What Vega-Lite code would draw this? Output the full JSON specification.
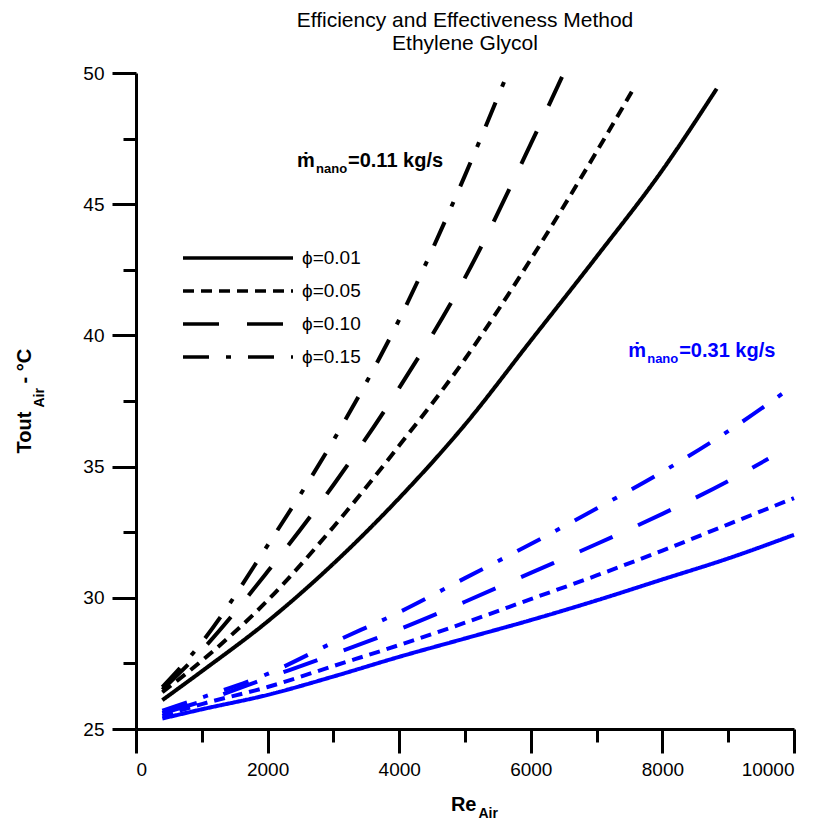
{
  "$schema": "https://vega.github.io/schema/vega-lite/v6.json",
  "width": 658,
  "height": 656,
  "autosize": "none",
  "padding": {"left": 136, "top": 73, "right": 26, "bottom": 100},
  "background": "white",
  "title": {
    "text": ["Efficiency and Effectiveness Method", "Ethylene Glycol"],
    "font": "Liberation Sans",
    "fontSize": 21,
    "fontWeight": "normal",
    "lineHeight": 23,
    "color": "black",
    "anchor": "middle",
    "frame": "group",
    "offset": 10
  },
  "datasets": {
    "curves": [
      {"Re": 400, "T": 26.1, "mdot": "0.11", "phi": "0.01"},
      {"Re": 1000, "T": 27.2, "mdot": "0.11", "phi": "0.01"},
      {"Re": 2000, "T": 29.1, "mdot": "0.11", "phi": "0.01"},
      {"Re": 3000, "T": 31.3, "mdot": "0.11", "phi": "0.01"},
      {"Re": 4000, "T": 33.8, "mdot": "0.11", "phi": "0.01"},
      {"Re": 5000, "T": 36.6, "mdot": "0.11", "phi": "0.01"},
      {"Re": 6000, "T": 39.8, "mdot": "0.11", "phi": "0.01"},
      {"Re": 7000, "T": 43.0, "mdot": "0.11", "phi": "0.01"},
      {"Re": 8000, "T": 46.3, "mdot": "0.11", "phi": "0.01"},
      {"Re": 8825, "T": 49.4, "mdot": "0.11", "phi": "0.01"},
      {"Re": 400, "T": 26.4, "mdot": "0.11", "phi": "0.05"},
      {"Re": 1000, "T": 27.6, "mdot": "0.11", "phi": "0.05"},
      {"Re": 2000, "T": 29.9, "mdot": "0.11", "phi": "0.05"},
      {"Re": 3000, "T": 32.7, "mdot": "0.11", "phi": "0.05"},
      {"Re": 4000, "T": 35.8, "mdot": "0.11", "phi": "0.05"},
      {"Re": 5000, "T": 39.1, "mdot": "0.11", "phi": "0.05"},
      {"Re": 6000, "T": 42.9, "mdot": "0.11", "phi": "0.05"},
      {"Re": 7000, "T": 47.0, "mdot": "0.11", "phi": "0.05"},
      {"Re": 7584, "T": 49.5, "mdot": "0.11", "phi": "0.05"},
      {"Re": 400, "T": 26.5, "mdot": "0.11", "phi": "0.10"},
      {"Re": 1000, "T": 28.0, "mdot": "0.11", "phi": "0.10"},
      {"Re": 2000, "T": 31.0, "mdot": "0.11", "phi": "0.10"},
      {"Re": 3000, "T": 34.3, "mdot": "0.11", "phi": "0.10"},
      {"Re": 4000, "T": 38.0, "mdot": "0.11", "phi": "0.10"},
      {"Re": 5000, "T": 42.2, "mdot": "0.11", "phi": "0.10"},
      {"Re": 6000, "T": 47.3, "mdot": "0.11", "phi": "0.10"},
      {"Re": 6474, "T": 49.85, "mdot": "0.11", "phi": "0.10"},
      {"Re": 400, "T": 26.6, "mdot": "0.11", "phi": "0.15"},
      {"Re": 1000, "T": 28.3, "mdot": "0.11", "phi": "0.15"},
      {"Re": 2000, "T": 32.0, "mdot": "0.11", "phi": "0.15"},
      {"Re": 3000, "T": 36.0, "mdot": "0.11", "phi": "0.15"},
      {"Re": 4000, "T": 40.6, "mdot": "0.11", "phi": "0.15"},
      {"Re": 5000, "T": 46.1, "mdot": "0.11", "phi": "0.15"},
      {"Re": 5593, "T": 49.66, "mdot": "0.11", "phi": "0.15"},
      {"Re": 400, "T": 25.4, "mdot": "0.31", "phi": "0.01"},
      {"Re": 1000, "T": 25.75, "mdot": "0.31", "phi": "0.01"},
      {"Re": 2000, "T": 26.3, "mdot": "0.31", "phi": "0.01"},
      {"Re": 3000, "T": 27.0, "mdot": "0.31", "phi": "0.01"},
      {"Re": 4000, "T": 27.75, "mdot": "0.31", "phi": "0.01"},
      {"Re": 5000, "T": 28.45, "mdot": "0.31", "phi": "0.01"},
      {"Re": 6000, "T": 29.15, "mdot": "0.31", "phi": "0.01"},
      {"Re": 7000, "T": 29.9, "mdot": "0.31", "phi": "0.01"},
      {"Re": 8000, "T": 30.7, "mdot": "0.31", "phi": "0.01"},
      {"Re": 9000, "T": 31.5, "mdot": "0.31", "phi": "0.01"},
      {"Re": 10000, "T": 32.4, "mdot": "0.31", "phi": "0.01"},
      {"Re": 400, "T": 25.5, "mdot": "0.31", "phi": "0.05"},
      {"Re": 1000, "T": 25.95, "mdot": "0.31", "phi": "0.05"},
      {"Re": 2000, "T": 26.6, "mdot": "0.31", "phi": "0.05"},
      {"Re": 3000, "T": 27.4, "mdot": "0.31", "phi": "0.05"},
      {"Re": 4000, "T": 28.2, "mdot": "0.31", "phi": "0.05"},
      {"Re": 5000, "T": 29.05, "mdot": "0.31", "phi": "0.05"},
      {"Re": 6000, "T": 29.95, "mdot": "0.31", "phi": "0.05"},
      {"Re": 7000, "T": 30.85, "mdot": "0.31", "phi": "0.05"},
      {"Re": 8000, "T": 31.8, "mdot": "0.31", "phi": "0.05"},
      {"Re": 9000, "T": 32.8, "mdot": "0.31", "phi": "0.05"},
      {"Re": 10000, "T": 33.8, "mdot": "0.31", "phi": "0.05"},
      {"Re": 400, "T": 25.6, "mdot": "0.31", "phi": "0.10"},
      {"Re": 1000, "T": 26.05, "mdot": "0.31", "phi": "0.10"},
      {"Re": 2000, "T": 26.95, "mdot": "0.31", "phi": "0.10"},
      {"Re": 3000, "T": 27.85, "mdot": "0.31", "phi": "0.10"},
      {"Re": 4000, "T": 28.8, "mdot": "0.31", "phi": "0.10"},
      {"Re": 5000, "T": 29.85, "mdot": "0.31", "phi": "0.10"},
      {"Re": 6000, "T": 30.95, "mdot": "0.31", "phi": "0.10"},
      {"Re": 7000, "T": 32.05, "mdot": "0.31", "phi": "0.10"},
      {"Re": 8000, "T": 33.2, "mdot": "0.31", "phi": "0.10"},
      {"Re": 9000, "T": 34.45, "mdot": "0.31", "phi": "0.10"},
      {"Re": 9610, "T": 35.3, "mdot": "0.31", "phi": "0.10"},
      {"Re": 400, "T": 25.7, "mdot": "0.31", "phi": "0.15"},
      {"Re": 1000, "T": 26.2, "mdot": "0.31", "phi": "0.15"},
      {"Re": 2000, "T": 27.1, "mdot": "0.31", "phi": "0.15"},
      {"Re": 3000, "T": 28.3, "mdot": "0.31", "phi": "0.15"},
      {"Re": 4000, "T": 29.45, "mdot": "0.31", "phi": "0.15"},
      {"Re": 5000, "T": 30.75, "mdot": "0.31", "phi": "0.15"},
      {"Re": 6000, "T": 32.05, "mdot": "0.31", "phi": "0.15"},
      {"Re": 7000, "T": 33.4, "mdot": "0.31", "phi": "0.15"},
      {"Re": 8000, "T": 34.8, "mdot": "0.31", "phi": "0.15"},
      {"Re": 9000, "T": 36.35, "mdot": "0.31", "phi": "0.15"},
      {"Re": 10000, "T": 38.1, "mdot": "0.31", "phi": "0.15"}
    ],
    "notes": [
      {"label": "ṁ", "Re": 2447, "T": 46.42, "grp": "0.11", "kind": "main"},
      {"label": "nano", "Re": 2736, "T": 46.19, "grp": "0.11", "kind": "sub"},
      {"label": "=0.11 kg/s", "Re": 3222, "T": 46.42, "grp": "0.11", "kind": "main"},
      {"label": "ṁ", "Re": 7480, "T": 39.18, "grp": "0.31", "kind": "main"},
      {"label": "nano", "Re": 7769, "T": 38.95, "grp": "0.31", "kind": "sub"},
      {"label": "=0.31 kg/s", "Re": 8255, "T": 39.18, "grp": "0.31", "kind": "main"}
    ]
  },
  "resolve": {"axis": {"x": "independent", "y": "independent"}},
  "layer": [
    {
      "data": {"name": "curves"},
      "transform": [{"filter": "datum.mdot === '0.11'"}],
      "mark": {"type": "line", "color": "black", "strokeWidth": 4, "interpolate": "monotone"},
      "encoding": {
        "x": {
          "field": "Re", "type": "quantitative",
          "scale": {"domain": [0, 10000], "nice": false},
          "axis": {
            "orient": "bottom", "values": [0, 2000, 4000, 6000, 8000, 10000], "format": "d",
            "tickSize": 24, "tickWidth": 3, "tickColor": "black",
            "domainWidth": 3, "domainColor": "black",
            "labelFont": "Liberation Sans", "labelFontSize": 19, "labelColor": "black", "labelPadding": 7,
            "grid": false,
            "title": "Re", "titleFont": "Liberation Sans", "titleFontSize": 20, "titleFontWeight": "bold", "titleColor": "black",
            "titleAlign": "right", "titleBaseline": "alphabetic", "titleX": 340, "titleY": 81
          }
        },
        "y": {
          "field": "T", "type": "quantitative",
          "scale": {"domain": [25, 50], "nice": false, "zero": false},
          "axis": {
            "orient": "left", "values": [25, 30, 35, 40, 45, 50], "format": "d",
            "tickSize": 24, "tickWidth": 3, "tickColor": "black",
            "domainWidth": 3, "domainColor": "black",
            "labelFont": "Liberation Sans", "labelFontSize": 19, "labelColor": "black", "labelPadding": 8,
            "grid": false,
            "title": "Tout", "titleFont": "Liberation Sans", "titleFontSize": 20, "titleFontWeight": "bold", "titleColor": "black",
            "titleAngle": 270, "titleAlign": "left", "titleBaseline": "alphabetic", "titleX": -106, "titleY": 380
          }
        },
        "strokeDash": {
          "field": "phi", "type": "nominal",
          "scale": {"domain": ["0.01", "0.05", "0.10", "0.15"], "range": [[1, 0], [11, 7], [36, 28], [26, 17, 5, 17]]},
          "legend": {
            "orient": "none", "legendX": 45, "legendY": 175, "title": null, "padding": 0,
            "symbolType": "stroke", "symbolSize": 12100, "symbolStrokeWidth": 3.5, "symbolStrokeColor": "black",
            "clipHeight": 20, "rowPadding": 13,
            "labelFont": "Liberation Sans", "labelFontSize": 19, "labelColor": "black", "labelOffset": 7,
            "labelExpr": "'ϕ=' + datum.label"
          }
        }
      }
    },
    {
      "data": {"name": "curves"},
      "transform": [{"filter": "datum.mdot === '0.31'"}],
      "mark": {"type": "line", "color": "#0000ff", "strokeWidth": 4, "interpolate": "monotone"},
      "encoding": {
        "x": {
          "field": "Re", "type": "quantitative",
          "axis": {
            "orient": "bottom", "values": [1000, 3000, 5000, 7000, 9000],
            "tickSize": 13, "tickWidth": 3, "tickColor": "black",
            "domain": false, "labels": false, "grid": false,
            "title": "Air", "titleFont": "Liberation Sans", "titleFontSize": 14, "titleFontWeight": "bold", "titleColor": "black",
            "titleAlign": "left", "titleBaseline": "alphabetic", "titleX": 342, "titleY": 88
          }
        },
        "y": {
          "field": "T", "type": "quantitative",
          "axis": {
            "orient": "left", "values": [27.5, 32.5, 37.5, 42.5, 47.5],
            "tickSize": 13, "tickWidth": 3, "tickColor": "black",
            "domain": false, "labels": false, "grid": false,
            "title": "Air", "titleFont": "Liberation Sans", "titleFontSize": 14, "titleFontWeight": "bold", "titleColor": "black",
            "titleAngle": 270, "titleAlign": "left", "titleBaseline": "alphabetic", "titleX": -93, "titleY": 334
          }
        },
        "strokeDash": {
          "field": "phi", "type": "nominal",
          "legend": {
            "orient": "none", "legendX": 45, "legendY": 175, "title": null, "padding": 0,
            "symbolType": "stroke", "symbolSize": 12100, "symbolStrokeWidth": 3.5, "symbolStrokeColor": "black",
            "clipHeight": 20, "rowPadding": 13,
            "labelFont": "Liberation Sans", "labelFontSize": 19, "labelColor": "black", "labelOffset": 7,
            "labelExpr": "'ϕ=' + datum.label"
          }
        }
      }
    },
    {
      "data": {"name": "notes"},
      "transform": [{"filter": "datum.kind === 'main'"}],
      "mark": {"type": "text", "font": "Liberation Sans", "fontSize": 20, "fontWeight": "bold", "align": "left", "baseline": "alphabetic"},
      "encoding": {
        "x": {"field": "Re", "type": "quantitative", "axis": null},
        "y": {
          "field": "T", "type": "quantitative",
          "axis": {
            "orient": "left", "domain": false, "ticks": false, "labels": false, "grid": false,
            "title": "- °C", "titleFont": "Liberation Sans", "titleFontSize": 20, "titleFontWeight": "bold", "titleColor": "black",
            "titleAngle": 270, "titleAlign": "left", "titleBaseline": "alphabetic", "titleX": -106, "titleY": 310
          }
        },
        "text": {"field": "label"},
        "color": {"field": "grp", "type": "nominal", "scale": {"domain": ["0.11", "0.31"], "range": ["black", "#0000ff"]}, "legend": null}
      }
    },
    {
      "data": {"name": "notes"},
      "transform": [{"filter": "datum.kind === 'sub'"}],
      "mark": {"type": "text", "font": "Liberation Sans", "fontSize": 13, "fontWeight": "bold", "align": "left", "baseline": "alphabetic"},
      "encoding": {
        "x": {"field": "Re", "type": "quantitative", "axis": null},
        "y": {"field": "T", "type": "quantitative", "axis": null},
        "text": {"field": "label"},
        "color": {"field": "grp", "type": "nominal", "legend": null}
      }
    }
  ],
  "config": {
    "view": {"stroke": null}
  }
}
